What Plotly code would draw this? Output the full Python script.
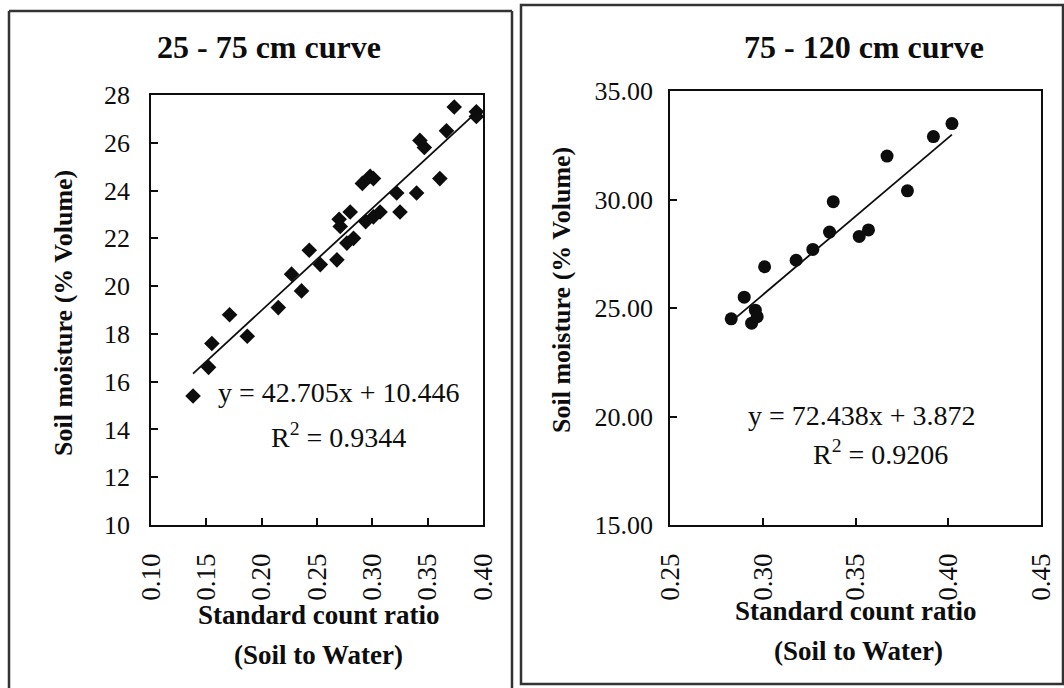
import plotly.graph_objects as go

# ---------------- data ----------------
# Panel 1: 25 - 75 cm
ratio_25_75 = [0.138, 0.152, 0.155, 0.171, 0.187, 0.215, 0.227, 0.236, 0.243, 0.253,
               0.268, 0.277, 0.283, 0.270, 0.271, 0.280, 0.294, 0.301, 0.307, 0.325,
               0.291, 0.298, 0.301, 0.322, 0.340, 0.361, 0.343, 0.347, 0.367, 0.374,
               0.394, 0.394]
moist_25_75 = [15.4, 16.6, 17.6, 18.8, 17.9, 19.1, 20.5, 19.8, 21.5, 20.9,
               21.1, 21.8, 22.0, 22.8, 22.5, 23.1, 22.7, 22.9, 23.1, 23.1,
               24.3, 24.6, 24.5, 23.9, 23.9, 24.5, 26.1, 25.8, 26.5, 27.5,
               27.3, 27.1]
slope_25_75, icpt_25_75, r2_25_75 = 42.705, 10.446, 0.9344

# Panel 2: 75 - 120 cm
ratio_75_120 = [0.283, 0.290, 0.294, 0.296, 0.297, 0.301, 0.318, 0.327, 0.336, 0.338,
                0.352, 0.357, 0.367, 0.378, 0.392, 0.402]
moist_75_120 = [24.5, 25.5, 24.3, 24.9, 24.6, 26.9, 27.2, 27.7, 28.5, 29.9,
                28.3, 28.6, 32.0, 30.4, 32.9, 33.5]
slope_75_120, icpt_75_120, r2_75_120 = 72.438, 3.872, 0.9206

titles = ["25 - 75 cm curve", "75 - 120 cm curve"]
x_title_1 = "Standard count ratio"
x_title_2 = "(Soil to Water)"
y_title = "Soil moisture (% Volume)"

# ---------------- layout helpers ----------------
W, H = 1064, 688
def px(x):
    return x / W
def py(y):
    return 1 - y / H

INK = "#0d0d0d"
SERIF = "Liberation Serif, Times New Roman, serif"

fig = go.Figure()

def fit_line(xs, m, b):
    lo, hi = min(xs), max(xs)
    return [lo, hi], [m * lo + b, m * hi + b]

fig.add_trace(go.Scatter(x=ratio_25_75, y=moist_25_75, mode="markers",
                         marker=dict(symbol="diamond", size=12, color=INK),
                         xaxis="x", yaxis="y", showlegend=False))
lx, ly = fit_line(ratio_25_75, slope_25_75, icpt_25_75)
fig.add_trace(go.Scatter(x=lx, y=ly, mode="lines", line=dict(color=INK, width=1.8),
                         xaxis="x", yaxis="y", showlegend=False))

fig.add_trace(go.Scatter(x=ratio_75_120, y=moist_75_120, mode="markers",
                         marker=dict(symbol="circle", size=13, color=INK),
                         xaxis="x2", yaxis="y2", showlegend=False))
lx2, ly2 = fit_line(ratio_75_120, slope_75_120, icpt_75_120)
fig.add_trace(go.Scatter(x=lx2, y=ly2, mode="lines", line=dict(color=INK, width=1.8),
                         xaxis="x2", yaxis="y2", showlegend=False))

axis_common = dict(showline=True, linecolor=INK, linewidth=1.5, mirror=True,
                   showgrid=False, zeroline=False, ticks="inside", ticklen=7,
                   tickcolor=INK, tickwidth=1.5, automargin=False)

fig.update_layout(
    width=W, height=H, margin=dict(l=0, r=0, t=0, b=0), autosize=False,
    paper_bgcolor="white", plot_bgcolor="white",
    font=dict(family=SERIF, color=INK),
    xaxis=dict(domain=[px(151), px(483)], range=[0.10, 0.40], dtick=0.05,
               tick0=0.10, tickformat=".2f", tickangle=-90, anchor="y",
               tickfont=dict(size=27, family=SERIF, color=INK),
               ticklabelstandoff=16, **axis_common),
    yaxis=dict(domain=[py(525), py(95)], range=[10, 28], dtick=2,
               tickfont=dict(size=26, family=SERIF, color=INK), anchor="x",
               ticklabelstandoff=14, **axis_common),
    xaxis2=dict(domain=[px(670), px(1041)], range=[0.25, 0.45], dtick=0.05,
                tick0=0.25, tickformat=".2f", tickangle=-90, anchor="y2",
                tickfont=dict(size=27, family=SERIF, color=INK),
                ticklabelstandoff=16, **axis_common),
    yaxis2=dict(domain=[py(525), py(91)], range=[15, 35], dtick=5,
                tickformat=".2f", anchor="x2",
                tickfont=dict(size=26, family=SERIF, color=INK),
                ticklabelstandoff=10, **axis_common),
)

# panel frames (kept inside the paper)
FRAME = dict(color="#333333", width=2.5)
# left panel: left, top, right sides (bottom runs off the page)
for (xa, ya, xb, yb) in [(9, 688, 9, 11), (9, 11, 512, 11), (512, 11, 512, 688)]:
    fig.add_shape(type="line", xref="paper", yref="paper",
                  x0=px(xa), y0=py(ya), x1=px(xb), y1=py(yb), line=FRAME)
# right panel
fig.add_shape(type="rect", xref="paper", yref="paper",
              x0=px(521), x1=px(1063), y0=py(684), y1=py(5), line=FRAME)

def ann(text, x, y, size, bold=False, angle=0):
    fig.add_annotation(text=f"<b>{text}</b>" if bold else text,
                       x=px(x), y=py(y), xref="paper", yref="paper",
                       showarrow=False, textangle=angle,
                       xanchor="center", yanchor="middle",
                       font=dict(size=size, family=SERIF, color=INK))

# titles
ann(titles[0], 269, 47, 32, bold=True)
ann(titles[1], 864, 47, 32, bold=True)

# y titles
ann(y_title, 63, 313, 26, bold=True, angle=-90)
ann(y_title, 561, 290, 26, bold=True, angle=-90)

# x titles
ann(x_title_1, 319, 615, 27, bold=True)
ann(x_title_2, 318, 655, 27, bold=True)
ann(x_title_1, 856, 611, 27, bold=True)
ann(x_title_2, 858, 651, 27, bold=True)

# equations
ann(f"y = {slope_25_75:.3f}x + {icpt_25_75:.3f}", 339, 392, 28)
ann(f"R<sup>2</sup> = {r2_25_75:.4f}", 338, 435, 28)
ann(f"y = {slope_75_120:.3f}x + {icpt_75_120:.3f}", 862, 415, 28)
ann(f"R<sup>2</sup> = {r2_75_120:.4f}", 880, 453, 28)

fig.write_html("out.html", config={"displayModeBar": False},
               post_script="document.body.style.margin='0px';document.body.style.overflow='hidden';")
